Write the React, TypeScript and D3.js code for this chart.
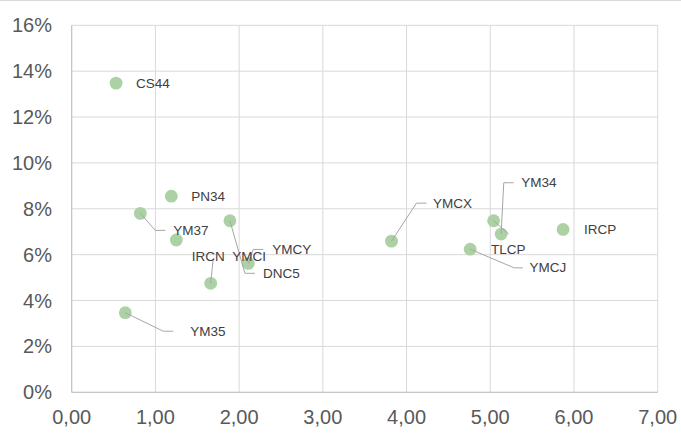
import React from "react";
import * as d3 from "d3";

const names = ["CS44", "PN34", "YM37", "YMCI", "IRCN", "YMCY", "DNC5", "YM35", "YMCX", "TLCP", "YM34", "YMCJ", "IRCP"];
const xValues = [0.53, 1.19, 0.82, 1.25, 1.66, 2.11, 1.89, 0.64, 3.82, 5.04, 5.13, 4.76, 5.87];
const yValues = [13.48, 8.55, 7.8, 6.64, 4.75, 5.62, 7.48, 3.47, 6.59, 7.48, 6.9, 6.24, 7.1];
const xTicks = [0, 1, 2, 3, 4, 5, 6, 7];
const yTicks = [0, 2, 4, 6, 8, 10, 12, 14, 16];

// label placement (pixel offsets from the point) and leader lines
const labelLayout: Record<string, { dx: number; dy: number; leader: [number, number][] }> = {
  CS44: { dx: 20, dy: 0, leader: [] },
  PN34: { dx: 20, dy: 0, leader: [] },
  IRCP: { dx: 21, dy: 0, leader: [] },
  YM37: { dx: 33, dy: 17, leader: [[15, 17], [25, 17]] },
  YMCI: { dx: 56, dy: 17, leader: [] },
  IRCN: { dx: -19, dy: -27, leader: [[2.4, -23]] },
  YMCY: { dx: 24, dy: -14, leader: [[5, -14], [15, -14]] },
  DNC5: { dx: 33, dy: 52.6, leader: [[15, 52.6], [25, 52.6]] },
  YM35: { dx: 65, dy: 19, leader: [[38, 18.5], [48, 18.5]] },
  YMCX: { dx: 41.6, dy: -37.7, leader: [[25, -38], [35, -38]] },
  YM34: { dx: 20, dy: -51.7, leader: [[2.6, -51.3], [12.6, -51.3]] },
  TLCP: { dx: -2.6, dy: 28.3, leader: [[15, 13.3]] },
  YMCJ: { dx: 59.3, dy: 18.7, leader: [[44, 18.7], [52.7, 18.7]] },
};

const W = 681;
const H = 438;
const left = 71.7;
const right = 657.7;
const top = 25.3;
const bottom = 392.3;
const font = "'Liberation Sans', Arial, sans-serif";

export default function App() {
  const x = d3.scaleLinear().domain([0, 7]).range([left, right]);
  const y = d3.scaleLinear().domain([0, 16]).range([bottom, top]);
  const fmtX = (v: number) => v.toFixed(2).replace(".", ",");
  const line = d3.line();

  const pts = names.map((n, i) => ({ n, px: x(xValues[i]), py: y(yValues[i]) }));

  return (
    <svg width={W} height={H} style={{ position: "absolute", left: 0, top: 0, background: "#fff" }} fontFamily={font}>
      <line x1={0} x2={W} y1={0.5} y2={0.5} stroke="#d9d9d9" />
      {yTicks.map((t) => (
        <line key={"h" + t} x1={left} x2={right} y1={y(t)} y2={y(t)} stroke="#d9d9d9" strokeWidth={1} />
      ))}
      {xTicks.map((t) => (
        <line key={"v" + t} x1={x(t)} x2={x(t)} y1={top} y2={bottom} stroke="#d9d9d9" strokeWidth={1} />
      ))}
      <line x1={left} x2={left} y1={top} y2={bottom} stroke="#bfbfbf" />
      <line x1={left} x2={right} y1={bottom} y2={bottom} stroke="#bfbfbf" />
      {yTicks.map((t) => (
        <text key={"yl" + t} x={52} y={y(t)} textAnchor="end" dominantBaseline="central" fontSize={20} fill="#595959">
          {t + "%"}
        </text>
      ))}
      {xTicks.map((t) => (
        <text key={"xl" + t} x={x(t)} y={424} textAnchor="middle" fontSize={20} fill="#595959">
          {fmtX(t)}
        </text>
      ))}
      {pts.map((p) => (
        <circle key={"c" + p.n} cx={p.px} cy={p.py} r={6.4} fill="#acd1a5" />
      ))}
      {pts.map((p) => {
        const L = labelLayout[p.n];
        if (!L.leader.length) return null;
        const path = line([[p.px, p.py], ...L.leader.map(([a, b]) => [p.px + a, p.py + b] as [number, number])]);
        return <path key={"l" + p.n} d={path || ""} fill="none" stroke="#a6a6a6" strokeWidth={1} />;
      })}
      {pts.map((p) => {
        const L = labelLayout[p.n];
        return (
          <text key={"t" + p.n} x={p.px + L.dx} y={p.py + L.dy} dominantBaseline="central" fontSize={13.5} fill="#404040">
            {p.n}
          </text>
        );
      })}
    </svg>
  );
}
